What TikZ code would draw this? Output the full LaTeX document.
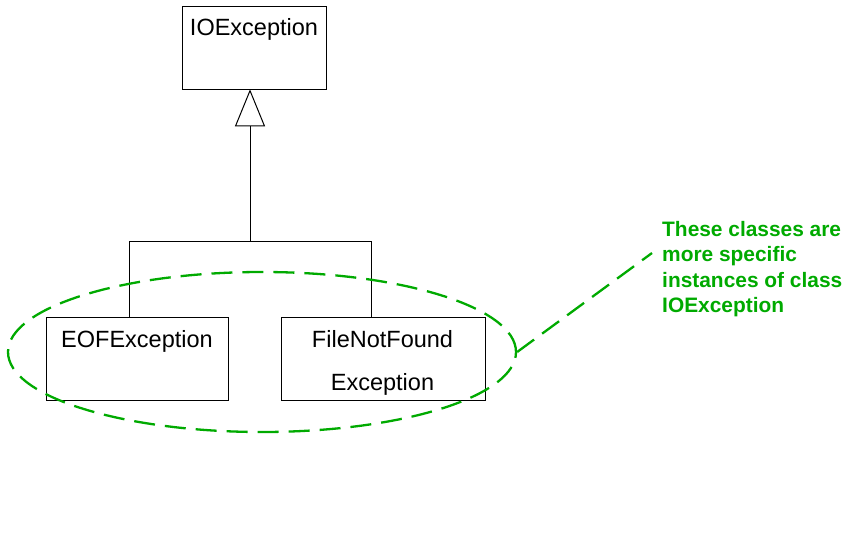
\documentclass[tikz,border=0pt]{standalone}
\usepackage{fontspec}
\setmainfont{Liberation Sans}
\usetikzlibrary{arrows.meta,shapes.geometric}
\definecolor{notegreen}{RGB}{0,170,0}
\tikzset{
  classbox/.style={draw=black, line width=1pt, rectangle, inner sep=0pt},
  classtext/.style={anchor=base, inner sep=0pt, font=\fontsize{23.5}{28}\selectfont},
  link/.style={draw=black, line width=1pt},
  notedash/.style={draw=notegreen, line width=2.3pt, dash pattern=on 21pt off 10pt},
  notetext/.style={anchor=north west, inner sep=0pt, align=left, text=notegreen,
    font=\fontsize{20.9}{25.4}\selectfont\bfseries}
}
\begin{document}
\begin{tikzpicture}[x=1pt,y=-1pt]
\useasboundingbox (0,0) rectangle (850,537);
% class boxes
\node[classbox, minimum width=144pt, minimum height=83pt] (ioe) at (254,48.5) {};
\node[classtext] (ioet) at (254,36) {IOException};
\node[classbox, minimum width=182pt, minimum height=83pt] (eof) at (137,358.5) {};
\node[classtext] (eoft) at (137,347) {EOFException};
\node[classbox, minimum width=204pt, minimum height=83pt] (fnf) at (383,358.5) {};
\node[classtext] (fnft1) at (382.5,347) {FileNotFound};
\node[classtext] (fnft2) at (382.5,390) {Exception};
% inheritance connectors
\coordinate (jn) at (250,241);
\coordinate (jl) at (129,241);
\coordinate (jr) at (371,241);
\draw[link, shorten >=-1.2pt, -{Triangle[open, length=37pt, width=30pt, line width=1pt]}] (jn) -- (jn |- ioe.south);
\draw[link] (jl) -- (jr);
\draw[link] (jl) -- (jl |- eof.north);
\draw[link] (jr) -- (jr |- fnf.north);
% note
\node[notedash, ellipse, inner sep=0pt, minimum width=508pt, minimum height=160pt] (grp) at (262,352) {};
\node[notetext] (note) at (662,221.2) {These classes are\\more specific\\instances of class\\IOException};
\coordinate (ne) at (652,253);
\draw[notedash] (grp.east) -- (ne);
\end{tikzpicture}
\end{document}
